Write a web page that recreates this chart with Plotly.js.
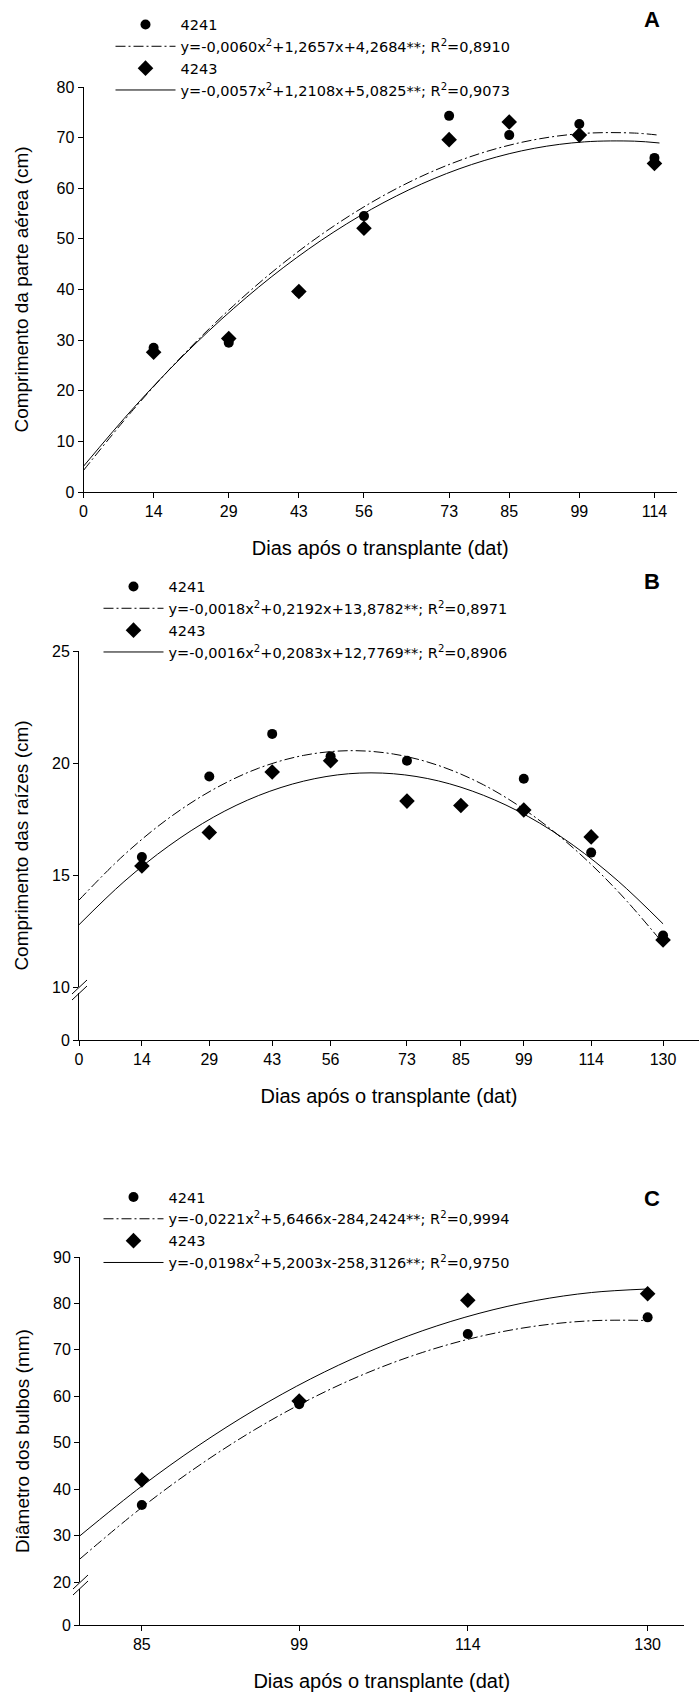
<!DOCTYPE html>
<html>
<head>
<meta charset="utf-8">
<script src="https://cdn.plot.ly/plotly-3.0.1.min.js"></script>
<style>html,body{margin:0;padding:0;background:#fff;} #chart{width:699px;height:1697px;}</style>
</head>
<body>
<div id="chart"></div>
<script>
// ---------- DATA ----------
// Panel A: Comprimento da parte aérea (cm)
const daysA = [14, 29, 43, 56, 73, 85, 99, 114];
const ticksA = [0, 14, 29, 43, 56, 73, 85, 99, 114];
const a4241 = [28.5, 29.5, 39.5, 54.5, 74.3, 70.5, 72.7, 66.0];
const a4243 = [27.6, 30.3, 39.6, 52.1, 69.6, 73.1, 70.5, 64.9];
const fitXA = [0, 10, 20, 30, 40, 50, 60, 70, 80, 90, 100, 110, 115];
const fitA4241 = [4.27, 16.33, 27.18, 36.84, 45.30, 52.55, 58.61, 63.47, 67.12, 69.58, 70.84, 70.90, 70.47];
const fitA4243 = [5.08, 16.62, 27.02, 36.28, 44.40, 51.37, 57.21, 61.91, 65.47, 67.89, 69.16, 69.30, 68.94];
const legA = ['4241', 'y=-0,0060x<sup>2</sup>+1,2657x+4,2684**; R<sup>2</sup>=0,8910',
              '4243', 'y=-0,0057x<sup>2</sup>+1,2108x+5,0825**; R<sup>2</sup>=0,9073'];

// Panel B: Comprimento das raízes (cm)
const daysB = [14, 29, 43, 56, 73, 85, 99, 114, 130];
const ticksB = [0, 14, 29, 43, 56, 73, 85, 99, 114, 130];
const b4241 = [15.8, 19.4, 21.3, 20.3, 20.1, 18.1, 19.3, 16.0, 12.3];
const b4243 = [15.4, 16.9, 19.6, 20.1, 18.3, 18.1, 17.9, 16.7, 12.1];
const fitXB = [0, 10, 20, 30, 40, 50, 60, 70, 80, 90, 100, 110, 120, 130];
const fitB4241 = [13.88, 15.89, 17.54, 18.83, 19.77, 20.34, 20.55, 20.40, 19.89, 19.03, 17.80, 16.21, 14.26, 11.95];
const fitB4243 = [12.78, 14.70, 16.30, 17.59, 18.55, 19.19, 19.52, 19.52, 19.20, 18.56, 17.61, 16.33, 14.73, 12.82];
const legB = ['4241', 'y=-0,0018x<sup>2</sup>+0,2192x+13,8782**; R<sup>2</sup>=0,8971',
              '4243', 'y=-0,0016x<sup>2</sup>+0,2083x+12,7769**; R<sup>2</sup>=0,8906'];

// Panel C: Diâmetro dos bulbos (mm)
const daysC = [85, 99, 114, 130];
const ticksC = [85, 99, 114, 130];
const c4241 = [36.6, 58.3, 73.4, 77.0];
const c4243 = [42.0, 59.0, 80.7, 82.1];
const fitXC = [79.5, 85, 90, 95, 100, 105, 110, 115, 120, 125, 130];
const fitC4241 = [24.98, 36.05, 44.94, 52.74, 59.42, 65.00, 69.47, 72.85, 75.11, 76.27, 76.33];
const fitC4243 = [29.97, 40.66, 49.33, 57.02, 63.72, 69.42, 74.14, 77.86, 80.60, 82.35, 83.11];
const legC = ['4241', 'y=-0,0221x<sup>2</sup>+5,6466x-284,2424**; R<sup>2</sup>=0,9994',
              '4243', 'y=-0,0198x<sup>2</sup>+5,2003x-258,3126**; R<sup>2</sup>=0,9750'];

const xTitle = 'Dias após o transplante (dat)';
const yTitles = ['Comprimento da parte aérea (cm)', 'Comprimento das raízes (cm)', 'Diâmetro dos bulbos (mm)'];
const panelLetters = ['A', 'B', 'C'];

// ---------- LAYOUT HELPERS ----------
const W = 699, H = 1697;
const px = v => v / W;
const py = v => 1 - v / H;
const FONT = 'Liberation Sans, Arial, sans-serif';
const LEGFONT = 'DejaVu Sans, Verdana, sans-serif';
const dashDot = '10px,3px,2px,3px';

function series(x, pts, fit1, fit2, legNames, xa, ya, legendId) {
  return [
    {x: x, y: pts[0], xaxis: xa, yaxis: ya, mode: 'markers', name: legNames[0], legend: legendId,
     marker: {symbol: 'circle', size: 10, color: '#000'}},
    {x: fit1[0], y: fit1[1], xaxis: xa, yaxis: ya, mode: 'lines', name: legNames[1], legend: legendId,
     line: {color: '#000', width: 1, dash: dashDot, shape: 'spline'}},
    {x: x, y: pts[1], xaxis: xa, yaxis: ya, mode: 'markers', name: legNames[2], legend: legendId,
     marker: {symbol: 'diamond', size: 12, color: '#000'}},
    {x: fit2[0], y: fit2[1], xaxis: xa, yaxis: ya, mode: 'lines', name: legNames[3], legend: legendId,
     line: {color: '#000', width: 1, shape: 'spline'}}
  ];
}

const traces = [].concat(
  series(daysA, [a4241, a4243], [fitXA, fitA4241], [fitXA, fitA4243], legA, 'x', 'y', 'legend'),
  series(daysB, [b4241, b4243], [fitXB, fitB4241], [fitXB, fitB4243], legB, 'x2', 'y2', 'legend2'),
  series(daysC, [c4241, c4243], [fitXC, fitC4241], [fitXC, fitC4243], legC, 'x3', 'y4', 'legend3'),
  [
    {x: [], y: [], xaxis: 'x2', yaxis: 'y3', showlegend: false, hoverinfo: 'skip'},
    {x: [], y: [], xaxis: 'x3', yaxis: 'y5', showlegend: false, hoverinfo: 'skip'},
    {x: [], y: [], xaxis: 'x2', yaxis: 'y6', showlegend: false, hoverinfo: 'skip'},
    {x: [], y: [], xaxis: 'x3', yaxis: 'y7', showlegend: false, hoverinfo: 'skip'}
  ]
);

const axBase = {
  showline: true, linecolor: '#000', linewidth: 1, showgrid: false, zeroline: false,
  ticks: 'outside', ticklen: 5, tickcolor: '#000', tickwidth: 1,
  tickfont: {family: FONT, size: 16, color: '#000'}, fixedrange: true
};
const xTitleObj = {text: xTitle, font: {family: FONT, size: 20, color: '#000'}, standoff: 21};
const yTitleObj = t => ({text: t, font: {family: FONT, size: 19, color: '#000'}, standoff: 22});

const ghostY = {showline: false, showgrid: false, zeroline: false, showticklabels: false, ticks: '', fixedrange: true};

const legBase = {xanchor: 'left', yanchor: 'top', bgcolor: 'rgba(0,0,0,0)', borderwidth: 0,
  font: {family: LEGFONT, size: 14.5, color: '#000'}, itemwidth: 60, tracegroupgap: 0, traceorder: 'normal'};

const layout = {
  width: W, height: H,
  margin: {l: 0, r: 0, t: 0, b: 0},
  paper_bgcolor: '#fff', plot_bgcolor: 'rgba(0,0,0,0)',
  font: {family: FONT, color: '#000'},
  showlegend: true,
  // Panel A
  xaxis: Object.assign({}, axBase, {domain: [px(83.5), px(677)], range: [0, 118.5], tickvals: ticksA, anchor: 'y', title: xTitleObj}),
  yaxis: Object.assign({}, axBase, {domain: [py(492), py(87)], range: [0, 80], dtick: 10, anchor: 'x', title: yTitleObj(yTitles[0])}),
  // Panel B
  xaxis2: Object.assign({}, axBase, {domain: [px(79), 1], range: [0, 138], tickvals: ticksB, anchor: 'y3', title: xTitleObj}),
  yaxis2: Object.assign({}, axBase, {domain: [py(987), py(651)], range: [10, 25], tickvals: [10, 15, 20, 25], anchor: 'x2'}),
  yaxis3: Object.assign({}, axBase, {domain: [py(1040), py(993)], range: [0, 10], tickvals: [0], anchor: 'x2'}),
  yaxis6: Object.assign({}, ghostY, {domain: [py(1040), py(651)], range: [0, 1], anchor: 'x2', title: Object.assign(yTitleObj(yTitles[1]), {standoff: 44})}),
  // Panel C
  xaxis3: Object.assign({}, axBase, {domain: [px(80), px(683.6)], range: [79.5, 133.2], tickvals: ticksC, anchor: 'y5', title: xTitleObj}),
  yaxis4: Object.assign({}, axBase, {domain: [py(1582), py(1257)], range: [20, 90], dtick: 10, anchor: 'x3'}),
  yaxis5: Object.assign({}, axBase, {domain: [py(1625), py(1589)], range: [0, 10], tickvals: [0], anchor: 'x3'}),
  yaxis7: Object.assign({}, ghostY, {domain: [py(1625), py(1257)], range: [0, 1], anchor: 'x3', title: Object.assign(yTitleObj(yTitles[2]), {standoff: 44})}),
  legend: Object.assign({}, legBase, {x: px(110.5), y: py(8.5)}),
  legend2: Object.assign({}, legBase, {x: px(98.5), y: py(570.5)}),
  legend3: Object.assign({}, legBase, {x: px(98.5), y: py(1181)}),
  annotations: panelLetters.map((t, i) => ({
    text: '<b>' + t + '</b>', x: px(652), y: py([19, 581, 1198][i]), xref: 'paper', yref: 'paper',
    showarrow: false, font: {family: FONT, size: 22, color: '#000'}, xanchor: 'center', yanchor: 'middle'
  })),
  shapes: [
    // axis-break marks, panel B
    {type: 'line', xref: 'paper', yref: 'paper', x0: px(72), y0: py(994), x1: px(87), y1: py(980), line: {color: '#000', width: 1}},
    {type: 'line', xref: 'paper', yref: 'paper', x0: px(72), y0: py(1000), x1: px(87), y1: py(986), line: {color: '#000', width: 1}},
    // axis-break marks, panel C
    {type: 'line', xref: 'paper', yref: 'paper', x0: px(73), y0: py(1589), x1: px(88), y1: py(1575), line: {color: '#000', width: 1}},
    {type: 'line', xref: 'paper', yref: 'paper', x0: px(73), y0: py(1595), x1: px(88), y1: py(1581), line: {color: '#000', width: 1}}
  ]
};

Plotly.newPlot('chart', traces, layout, {displayModeBar: false, staticPlot: true});
</script>
</body>
</html>
